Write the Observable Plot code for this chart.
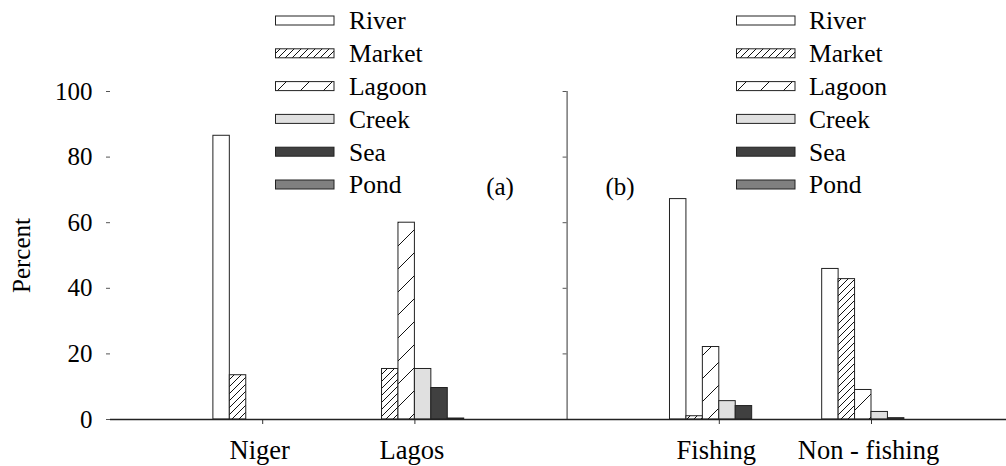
<!DOCTYPE html>
<html>
<head>
<meta charset="utf-8">
<script src="https://cdn.jsdelivr.net/npm/d3@7"></script>
<script src="https://cdn.jsdelivr.net/npm/@observablehq/plot@0.6"></script>
<style>
  html, body { margin: 0; padding: 0; background: #fff; }
  #wrap { position: relative; width: 1006px; height: 466px; overflow: hidden; }
  #ov { position: absolute; left: 0; top: 0; pointer-events: none; }
  #wrap text, #wrap svg { font-family: "Liberation Serif", "Times New Roman", Times, serif; }
</style>
</head>
<body>
<div id="wrap"></div>
<script>
// ---- data ----
const groups = ["Niger", "Lagos", "Fishing", "Non - fishing"];
const groupPos = [1, 2, 4, 5];           // panel (a): Niger, Lagos; panel (b): Fishing, Non - fishing
const series = ["River", "Market", "Lagoon", "Creek", "Sea", "Pond"];
const river  = [86.5,  0.0, 67.2, 45.9];
const market = [13.5, 15.4,  1.0, 42.8];
const lagoon = [ 0.0, 60.0, 22.1,  9.0];
const creek  = [ 0.0, 15.4,  5.6,  2.3];
const sea    = [ 0.0,  9.6,  4.1,  0.4];
const pond   = [ 0.0,  0.3,  0.0,  0.0];
const yTicks = [0, 20, 40, 60, 80, 100];
const panelLabels = ["(a)", "(b)"];

const values = {River: river, Market: market, Lagoon: lagoon, Creek: creek, Sea: sea, Pond: pond};

// ---- styles ----
const fills = {
  River: "#ffffff",
  Market: "url(#pat-market)",
  Lagoon: "url(#pat-lagoon)",
  Creek: "#e0e0e0",
  Sea: "#404040",
  Pond: "#808080"
};
const barW = 0.108;
const font = "Liberation Serif, Times New Roman, Times, serif";

const rows = [];
series.forEach((s, si) => {
  groups.forEach((g, gi) => {
    rows.push({series: s, group: g, pos: groupPos[gi], value: values[s][gi],
      x1: groupPos[gi] + (si - 3) * barW, x2: groupPos[gi] + (si - 2) * barW});
  });
});

const wrap = document.getElementById("wrap");

const chart = Plot.plot({
  width: 1006,
  height: 466,
  marginLeft: 110,
  marginRight: 0,
  marginTop: 91,
  marginBottom: 47,
  style: {fontFamily: font, fontSize: "25px", background: "white", color: "#000", overflow: "visible"},
  x: {domain: [0, 896 / 152.2]},
  y: {domain: [0, 100]},
  marks: [
    ...series.map(s => Plot.rectY(rows.filter(r => r.series === s && r.value > 0), {
      x1: "x1", x2: "x2", y: "value", fill: fills[s], stroke: "#222", strokeWidth: 1
    })),
    Plot.ruleX([3], {stroke: "#555", strokeWidth: 1.2}),
    Plot.ruleY(yTicks, {x1: 3, x2: 3, insetLeft: -4, stroke: "#555", strokeWidth: 1}),
    Plot.axisY({ticks: yTicks, tickSize: 4, tickPadding: 14, stroke: "#555", fill: "#000",
      line: true, label: "Percent", labelAnchor: "center", labelArrow: "none", labelOffset: 98,
      fontSize: 25}),
    Plot.axisX({ticks: groupPos, tickFormat: d => groups[groupPos.indexOf(d)], tickSize: 5,
      tickPadding: 16, stroke: "#333", fill: "#000", label: null, fontSize: 26.5, textStroke: null}),
    Plot.ruleY([0], {stroke: "#222", strokeWidth: 1.3})
  ]
});
wrap.appendChild(chart);
// x tick labels sit slightly left of their ticks in the reference
d3.select(chart).selectAll("g[aria-label='x-axis tick label'] text").attr("dx", -3);

// ---- overlay with pattern defs, legends and panel labels ----
const ov = d3.select(wrap).append("svg").attr("id", "ov").attr("width", 1006).attr("height", 466);
const defs = ov.append("defs");
function hatch(id, w) {
  const p = defs.append("pattern").attr("id", id).attr("patternUnits", "userSpaceOnUse")
    .attr("width", w).attr("height", w);
  p.append("rect").attr("width", w).attr("height", w).attr("fill", "#fff");
  const g = p.append("g").attr("stroke", "#111").attr("stroke-width", 1);
  g.append("line").attr("x1", 0).attr("y1", w).attr("x2", w).attr("y2", 0);
  g.append("line").attr("x1", -1).attr("y1", 1).attr("x2", 1).attr("y2", -1);
  g.append("line").attr("x1", w - 1).attr("y1", w + 1).attr("x2", w + 1).attr("y2", w - 1);
}
hatch("pat-market", 7);
hatch("pat-lagoon", 23);

function legend(xSw, xText) {
  series.forEach((s, i) => {
    const cy = 20.5 + i * 32.8;
    ov.append("rect").attr("x", xSw).attr("y", cy - 4.5).attr("width", 58.5).attr("height", 9)
      .attr("fill", fills[s]).attr("stroke", "#222").attr("stroke-width", 1);
    ov.append("text").attr("x", xText).attr("y", cy).attr("dy", "0.35em")
      .style("font-family", font).attr("font-size", 25.5).attr("fill", "#000").text(s);
  });
}
legend(275.5, 349);
legend(736.5, 809);

[[500, panelLabels[0]], [620, panelLabels[1]]].forEach(([x, t]) => {
  ov.append("text").attr("x", x).attr("y", 186.7).attr("dy", "0.35em").attr("text-anchor", "middle")
    .style("font-family", font).attr("font-size", 25).attr("fill", "#000").text(t);
});
</script>
</body>
</html>
